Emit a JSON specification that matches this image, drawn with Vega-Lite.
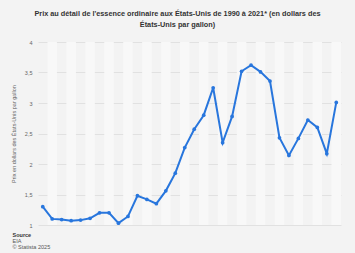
{
  "$schema": "https://vega.github.io/schema/vega-lite/v6.json",
  "width": 303,
  "height": 183,
  "autosize": {"type": "none"},
  "padding": {"left": 38, "top": 42, "right": 14, "bottom": 28},
  "background": "#f3f3f3",
  "title": {
    "text": ["Prix au détail de l'essence ordinaire aux États-Unis de 1990 à 2021* (en dollars des", "États-Unis par gallon)"],
    "font": "Liberation Sans",
    "fontSize": 7.3,
    "fontWeight": "bold",
    "color": "#333333",
    "lineHeight": 11,
    "anchor": "middle",
    "dx": -12,
    "offset": 12
  },
  "data": {
    "values": [
      {"year": 1990, "price": 1.30}, {"year": 1991, "price": 1.10}, {"year": 1992, "price": 1.09},
      {"year": 1993, "price": 1.07}, {"year": 1994, "price": 1.08}, {"year": 1995, "price": 1.11},
      {"year": 1996, "price": 1.20}, {"year": 1997, "price": 1.20}, {"year": 1998, "price": 1.03},
      {"year": 1999, "price": 1.14}, {"year": 2000, "price": 1.48}, {"year": 2001, "price": 1.42},
      {"year": 2002, "price": 1.35}, {"year": 2003, "price": 1.56}, {"year": 2004, "price": 1.85},
      {"year": 2005, "price": 2.27}, {"year": 2006, "price": 2.57}, {"year": 2007, "price": 2.80},
      {"year": 2008, "price": 3.25}, {"year": 2009, "price": 2.35}, {"year": 2010, "price": 2.78},
      {"year": 2011, "price": 3.52}, {"year": 2012, "price": 3.62}, {"year": 2013, "price": 3.51},
      {"year": 2014, "price": 3.36}, {"year": 2015, "price": 2.43}, {"year": 2016, "price": 2.14},
      {"year": 2017, "price": 2.42}, {"year": 2018, "price": 2.72}, {"year": 2019, "price": 2.60},
      {"year": 2020, "price": 2.17}, {"year": 2021, "price": 3.01}
    ]
  },
  "layer": [
    {
      "transform": [{"filter": "datum.year % 2 == 1"}],
      "mark": {"type": "rect", "color": "#f8f8f8"},
      "encoding": {
        "x": {
          "field": "year", "type": "ordinal",
          "scale": {"paddingInner": 0, "paddingOuter": 0},
          "axis": {
            "orient": "bottom",
            "title": ["EIA", "© Statista 2025"],
            "labels": false, "ticks": false, "domain": false,
            "titleFont": "Liberation Sans", "titleFontSize": 5.5, "titleFontWeight": "normal",
            "titleColor": "#555555", "titleAnchor": "start", "titleAlign": "left",
            "titleBaseline": "top", "titleLineHeight": 6.5,
            "titleX": -26, "titleY": 13
          }
        }
      }
    },
    {
      "mark": {"type": "line", "color": "#2876dd", "strokeWidth": 2, "point": {"filled": true, "size": 14, "color": "#2876dd"}},
      "encoding": {
        "x": {
          "field": "year", "type": "ordinal",
          "axis": {
            "orient": "bottom",
            "title": "Source",
            "labels": false, "ticks": false, "domain": false,
            "titleFont": "Liberation Sans", "titleFontSize": 5.5, "titleFontWeight": "bold",
            "titleColor": "#333333", "titleAnchor": "start", "titleAlign": "left",
            "titleBaseline": "top",
            "titleX": -26, "titleY": 7
          }
        },
        "y": {
          "field": "price", "type": "quantitative",
          "scale": {"domain": [1, 4], "nice": false, "zero": false},
          "axis": {
            "values": [1, 1.5, 2, 2.5, 3, 3.5, 4],
            "labelExpr": "replace(toString(datum.value), '.', ',')",
            "title": "Prix en dollars des États-Unis par gallon",
            "titleFont": "Liberation Sans", "titleFontSize": 5.5, "titleFontWeight": "normal",
            "titleColor": "#666666", "titlePadding": 8,
            "labelFont": "Liberation Sans", "labelFontSize": 5.5, "labelColor": "#666666",
            "labelPadding": 6,
            "ticks": false, "domain": false,
            "grid": true, "gridColor": "#dcdcdc", "gridWidth": 0.8
          }
        }
      }
    }
  ],
  "resolve": {"axis": {"x": "independent"}},
  "config": {"view": {"stroke": null}}
}
